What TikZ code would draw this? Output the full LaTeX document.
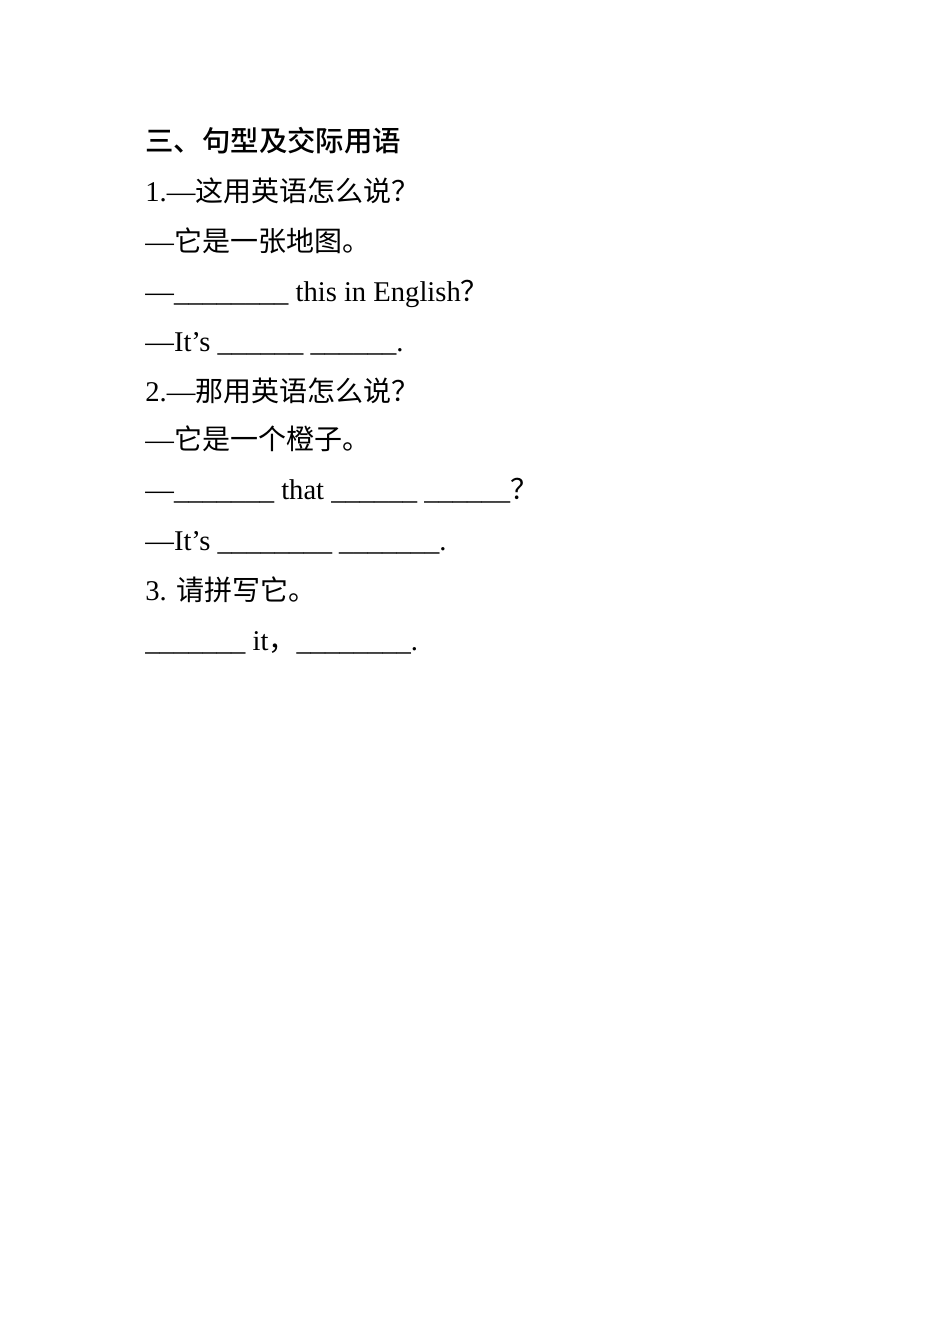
\documentclass[tikz,border=0pt]{standalone}
\usepackage{fontspec}
\setmainfont{Liberation Serif}
\newfontfamily\cjk{Noto Sans CJK SC}
\newfontfamily\cjkhead{Noto Sans CJK SC Medium}
\usepackage{tikz}

\begin{document}
\begin{tikzpicture}[x=0.5pt, y=-0.5pt,
    line/.style={anchor=base west, inner sep=0pt, font=\fontsize{14.3pt}{16pt}\selectfont}]
    \useasboundingbox (0,0) rectangle (950,1344);
    % 标题
    \node[line, font=\fontsize{14.2pt}{16pt}\selectfont\cjkhead] (title) at (145,151) {三、句型及交际用语};

    % 第1题
    \node[line] (q1a) at (145,201) {1.—{\cjk\fontsize{14pt}{16pt}\selectfont 这用英语怎么说？}};
    \node[line] (q1b) at (145,251) {—{\cjk\fontsize{14pt}{16pt}\selectfont 它是一张地图。}};
    \node[line] (q1c) at (145,301) {—\_\_\_\_\_\_\_\_ this in English{\cjk\fontsize{14pt}{16pt}\selectfont ？}};
    \node[line] (q1d) at (145,351) {—It’s \_\_\_\_\_\_ \_\_\_\_\_\_.};

    % 第2题
    \node[line] (q2a) at (145,401) {2.—{\cjk\fontsize{14pt}{16pt}\selectfont 那用英语怎么说？}};
    \node[line] (q2b) at (145,449) {—{\cjk\fontsize{14pt}{16pt}\selectfont 它是一个橙子。}};
    \node[line] (q2c) at (145,499) {—\_\_\_\_\_\_\_ that \_\_\_\_\_\_ \_\_\_\_\_\_{\cjk\fontsize{14pt}{16pt}\selectfont ？}};
    \node[line] (q2d) at (145,550) {—It’s \_\_\_\_\_\_\_\_ \_\_\_\_\_\_\_.};

    % 第3题
    \node[line] (q3a) at (145,600) {3. {\cjk\fontsize{14pt}{16pt}\selectfont 请拼写它。}};
    \node[line] (q3b) at (145,650) {\_\_\_\_\_\_\_ it{\cjk\fontsize{14pt}{16pt}\selectfont ，}\_\_\_\_\_\_\_\_.};
\end{tikzpicture}
\end{document}
